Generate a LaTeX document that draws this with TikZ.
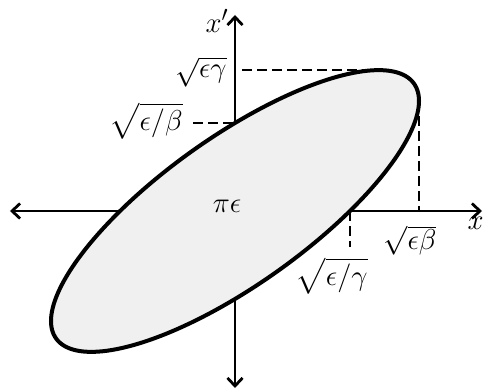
\documentclass[tikz,border=0pt]{standalone}
\usepackage{amsmath,amssymb}
\usepackage{tikz}
\usetikzlibrary{positioning,arrows.meta,calc}

\begin{document}
\begin{tikzpicture}[
  x=0.5pt, y=0.5pt,
  font=\fontsize{15}{18}\selectfont,
  >={Straight Barb[length=4pt,width=7.5pt]},
  axisline/.style={draw=black, line width=1.4pt},
  guideline/.style={draw=black, line width=1.4pt, dash pattern=on 5pt off 2.5pt},
  beamellipse/.style={draw=black, fill=gray!12, line width=2pt},
  lbl/.style={inner sep=0pt}
]
  \useasboundingbox (-235,-178) rectangle (250,211);
  % axes
  \coordinate (o) at (0,0);
  \coordinate (xl) at (-225,0);
  \coordinate (xr) at (247,0);
  \coordinate (yt) at (0,196);
  \coordinate (yb) at (0,-177);
  \draw[axisline,<->] (xl) -- (xr);
  \draw[axisline,<->] (yb) -- (yt);
  \node[lbl, anchor=east] (xplabel) at (-6,190) {$x'$};
  \node[lbl, anchor=north east] (xlabel) at (249,-6) {$x$};
  % points on the ellipse
  \coordinate (ptop) at (144,141);
  \coordinate (pright) at (184,110);
  \coordinate (pxp) at (0,88);
  \coordinate (px) at (115,0);
  % labels and guides
  \node[lbl, anchor=east] (gamtop) at (-8,139) {$\sqrt{\epsilon\gamma}$};
  \node[lbl, anchor=east] (betint) at (-52,90) {$\sqrt{\epsilon/\beta}$};
  \node[lbl, anchor=north] (betright) at (175,-14) {$\sqrt{\epsilon\beta}$};
  \node[lbl, anchor=north east] (gamint) at (133,-46) {$\sqrt{\epsilon/\gamma}$};
  \coordinate (gamend) at ($(px)+(0,-36)$);
  \draw[guideline] ($(o |- ptop)+(7,0)$) -- (ptop);
  \draw[guideline] (pright) -- (pright |- o);
  \draw[guideline] ($(betint.east |- pxp)+(10,0)$) -- (pxp);
  \draw[guideline] (px) -- (gamend);
  % phase-space ellipse
  \draw[beamellipse] plot[domain=0:358, samples=180] ({184*cos(\x)},{110*cos(\x)-88*sin(\x)}) -- cycle;
  \node[lbl] (area) at (-8,5) {$\pi\epsilon$};
\end{tikzpicture}
\end{document}
